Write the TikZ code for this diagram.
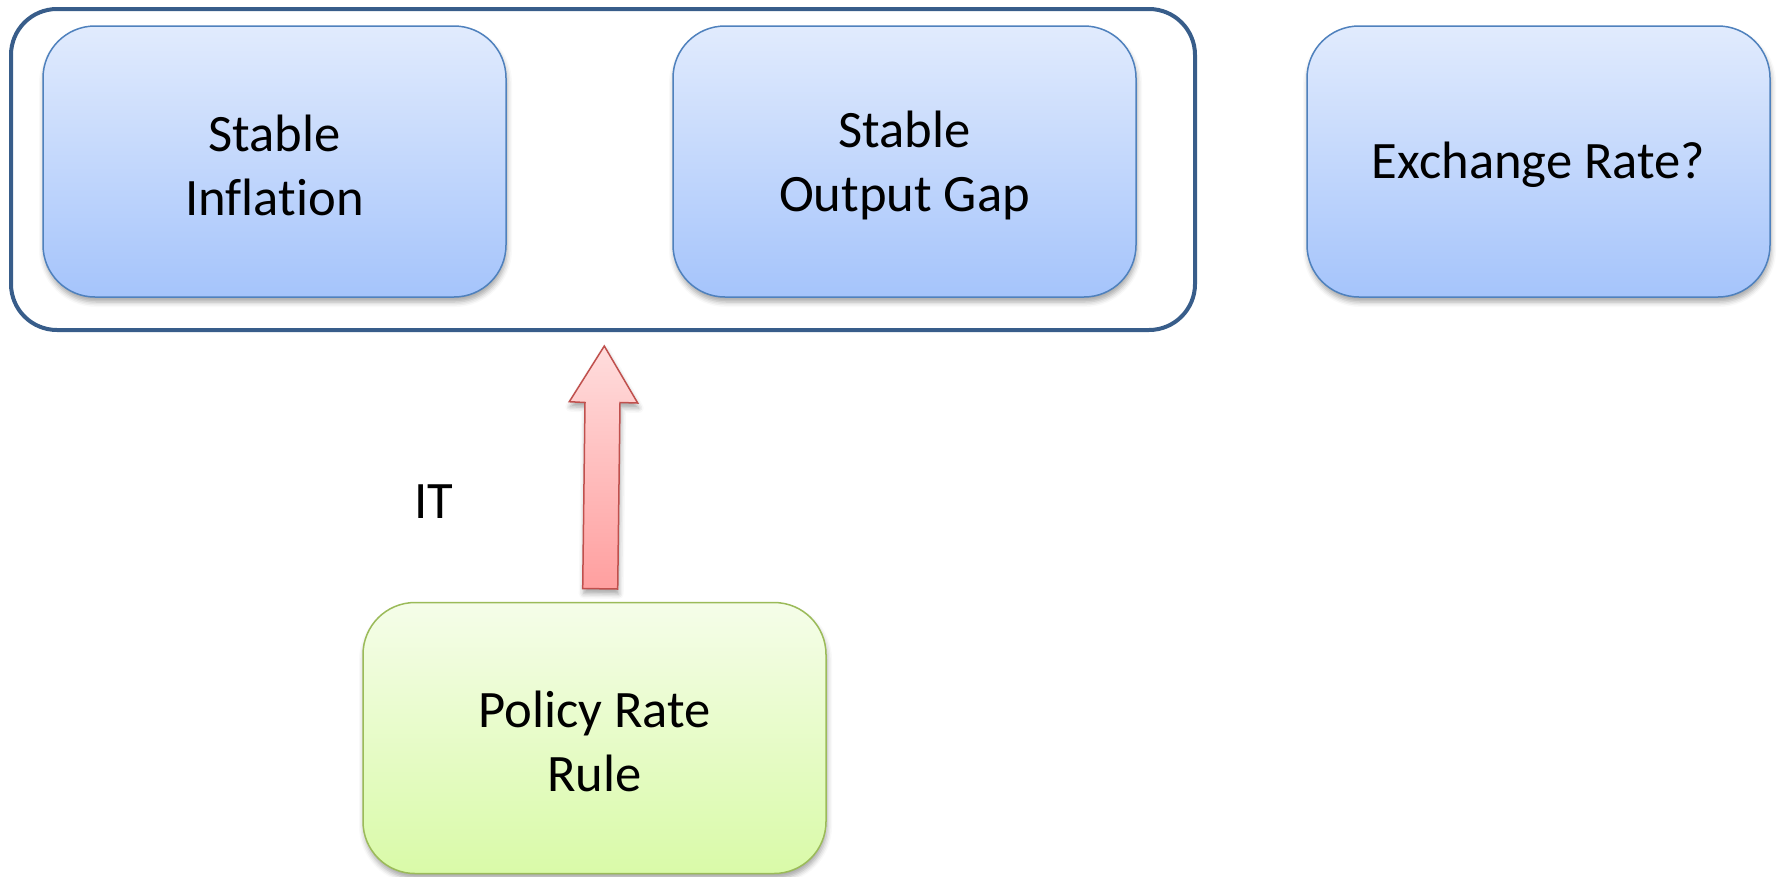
\documentclass[tikz,border=0pt]{standalone}
\usepackage{fontspec}
\setmainfont[Ligatures=NoCommon]{Carlito}
\usetikzlibrary{shadows.blur}
\definecolor{outerblue}{RGB}{56,93,138}
\definecolor{boxblue}{RGB}{79,129,189}
\definecolor{bluetop}{RGB}{225,235,253}
\definecolor{bluebot}{RGB}{165,196,251}
\definecolor{greenline}{RGB}{155,187,89}
\definecolor{greentop}{RGB}{245,253,233}
\definecolor{greenbot}{RGB}{217,250,168}
\definecolor{arrowline}{RGB}{192,80,77}
\definecolor{arrowtop}{RGB}{255,221,221}
\definecolor{arrowbot}{RGB}{255,159,159}
\newcommand{\downstrut}{\rule{0pt}{44pt}}
\begin{document}
\begin{tikzpicture}[x=1pt,y=-1pt,
  txt/.style={font=\fontsize{52.6}{64}\selectfont, align=center},
  softshadow/.style={blur shadow={shadow xshift=1pt, shadow yshift=-5pt, shadow blur radius=5pt, shadow opacity=35}},
  bluebox/.style={txt, draw=boxblue, line width=1.5pt, rounded corners=52pt,
    top color=bluetop, bottom color=bluebot, minimum width=463pt, minimum height=271pt,
    inner sep=0pt, softshadow},
  greenbox/.style={bluebox, draw=greenline, top color=greentop, bottom color=greenbot},
  outerbox/.style={draw=outerblue, line width=4pt, rounded corners=46pt,
    minimum width=1184pt, minimum height=321pt, inner sep=0pt},
  blockarrow/.style={draw=arrowline, line width=1.5pt, line join=miter,
    top color=arrowtop, bottom color=arrowbot, softshadow}
]
\useasboundingbox (0,0) rectangle (1779,876);
\node[outerbox] (goals) at (603,169.5) {};
\node[bluebox] (infl) at (274.5,161.5) {\downstrut Stable\\Inflation};
\node[bluebox] (gap) at (904.5,161.5) {\downstrut Stable\\Output Gap};
\node[bluebox] (fx) at (1538.5,161.5) {\downstrut Exchange Rate?};
\node[greenbox] (rule) at (594.5,738) {\downstrut Policy Rate\\Rule};
\node[txt] (it) at (434,502) {IT};
\path[blockarrow] (604.3,346) -- (637.7,403) -- (620,402.5) -- (617.7,589)
  -- (582.7,588.5) -- (585,402.5) -- (569.3,401.7) -- cycle;
\end{tikzpicture}
\end{document}
